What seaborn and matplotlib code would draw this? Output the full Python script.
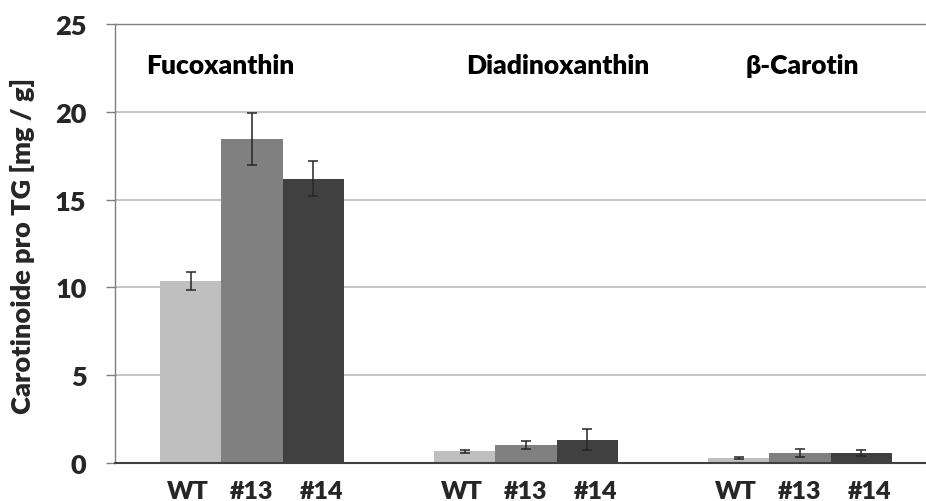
import matplotlib
matplotlib.use("Agg")
import matplotlib.pyplot as plt
import seaborn as sns
import pandas as pd
import numpy as np

pigments = ["Fucoxanthin", "Diadinoxanthin", "β-Carotin"]
strains = ["WT", "#13", "#14"]
values_wt = [10.35, 0.66, 0.30]
values_13 = [18.45, 1.03, 0.57]
values_14 = [16.2, 1.33, 0.57]
err_wt = [0.50, 0.10, 0.06]
err_13 = [1.50, 0.24, 0.22]
err_14 = [0.97, 0.60, 0.16]
colors = ["#BFBFBF", "#808080", "#404040"]

rows = []
for s, vals, errs in zip(strains, [values_wt, values_13, values_14], [err_wt, err_13, err_14]):
    for p, v, e in zip(pigments, vals, errs):
        rows.append({"pigment": p, "strain": s, "value": v, "err": e})
df = pd.DataFrame(rows)

sns.set_theme(style="white")
plt.rcParams['font.family'] = ['Lato', 'DejaVu Sans']
WT_ = "heavy"

fig = plt.figure(figsize=(9.26, 5.02), dpi=100)
W, H = 926, 502
ax = fig.add_axes([115 / W, 1 - 464 / H, (937 - 115) / W, (464 - 25) / H])

sns.barplot(data=df, x="pigment", y="value", hue="strain", order=pigments,
            hue_order=strains, palette=colors, width=0.673, errorbar=None,
            saturation=1, legend=False, ax=ax, zorder=3)

for cont, s in zip(ax.containers, strains):
    sub = df[df.strain == s].set_index("pigment").loc[pigments]
    xs = [b.get_x() + b.get_width() / 2 for b in cont]
    ax.errorbar(xs, sub["value"].values, yerr=sub["err"].values, fmt="none",
                ecolor="#262626", elinewidth=1.1, capsize=3.3, capthick=1.1, zorder=4)
    for b in cont:
        b.set_edgecolor("none")

ax.set_xlim(-0.5, 2.5)
ax.set_ylim(0, 25)
ax.set_yticks([0, 5, 10, 15, 20, 25])
ax.yaxis.grid(True, color="#BFBFBF", linewidth=1.3, zorder=0)
ax.set_axisbelow(True)
ax.tick_params(axis="y", labelsize=19.5, length=6.5, width=1, color="#808080",
               direction="out", left=True, pad=14)
for lab in ax.get_yticklabels():
    lab.set_fontweight(WT_)

xt, xl = [], []
offsets = {"WT": -0.01, "#13": 0.0, "#14": 0.03}
for cont, s in zip(ax.containers, strains):
    for b in cont:
        xt.append(b.get_x() + b.get_width() / 2 + offsets[s])
        xl.append(s)
order = np.argsort(xt)
ax.set_xticks(np.array(xt)[order])
ax.set_xticklabels(np.array(xl)[order], fontsize=18, fontweight=WT_)
ax.tick_params(axis="x", length=0, pad=12)
ax.set_xlabel("")

ax.set_ylabel("Carotinoide pro TG [mg / g]", fontsize=19.5, fontweight=WT_)
ax.yaxis.set_label_coords(-0.097, 0.497)

for sp in ["left", "top"]:
    ax.spines[sp].set_color("#7F7F7F")
    ax.spines[sp].set_linewidth(1.0)
ax.spines["right"].set_visible(False)
ax.spines["bottom"].set_color("#404040")
ax.spines["bottom"].set_linewidth(1.5)
ax.spines["bottom"].set_zorder(5)

label_x = [-0.387, 0.781, 1.80]
for p, lx in zip(pigments, label_x):
    ax.text(lx, 22.65, p, fontsize=19, fontweight=WT_, ha="left", va="center",
            color="#000000")

fig.savefig("out.png", dpi=100)
